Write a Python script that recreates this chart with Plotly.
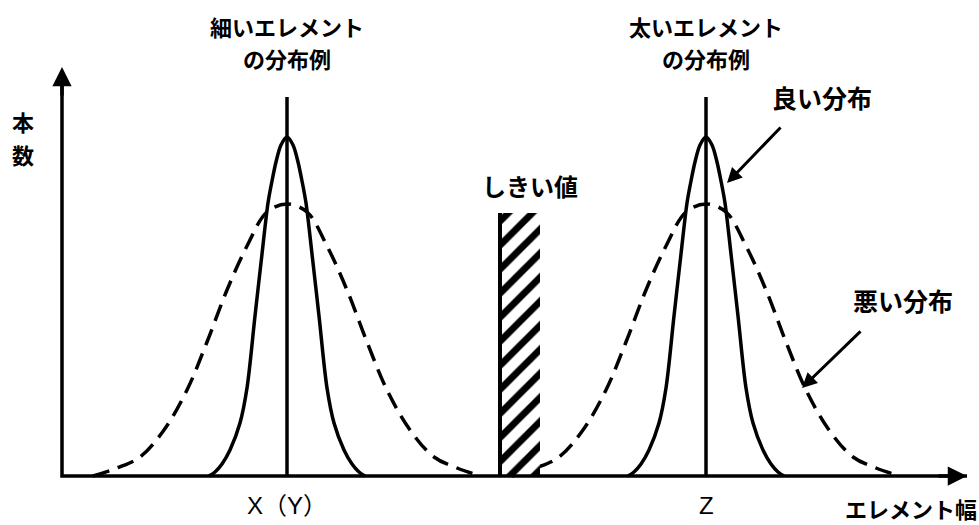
import plotly.graph_objects as go

# Centres of the two distributions on the element-width axis
centers = [225, 644]
center_labels = ["X（Y）", "Z"]
group_titles = [["細いエレメント", "の分布例"], ["太いエレメント", "の分布例"]]

# Half profile of the narrow (good) distribution: offset from centre -> count
good_offset = [0, 6, 11, 15, 19, 25, 32, 40, 47, 57, 65, 72, 78]
good_count = [339, 331, 314, 295, 273, 222, 160, 88, 53, 26, 12, 4, 0]

# Half profile of the wide (bad) distribution
bad_offset = [0, 20, 40, 60, 80, 100, 123, 147, 170, 194]
bad_count = [272, 264, 230, 186, 134, 86, 46, 19, 8, 0]

# Threshold band
threshold_left = 438
threshold_right = 478
threshold_height = 263

# Drawing extents
center_line_top = 379
y_axis_top = 409
x_axis_end = 905

INK = "black"
JP = "Noto Sans CJK JP"


def mirror(center, offsets, counts):
    xs = [center - o for o in reversed(offsets)] + [center + o for o in offsets[1:]]
    ys = list(reversed(counts)) + counts[1:]
    return xs, ys


fig = go.Figure()

# Wide (bad) distributions, dashed
for c in centers:
    xs, ys = mirror(c, bad_offset, bad_count)
    fig.add_trace(go.Scatter(
        x=xs, y=ys, mode="lines",
        line=dict(color=INK, width=3.5, dash="17px,9px", shape="spline", smoothing=1.0),
        hoverinfo="skip",
    ))

# Narrow (good) distributions, solid
for c in centers:
    xs, ys = mirror(c, good_offset, good_count)
    fig.add_trace(go.Scatter(
        x=xs, y=ys, mode="lines",
        line=dict(color=INK, width=3.5, shape="spline", smoothing=0.9),
        hoverinfo="skip",
    ))

# Threshold band with diagonal hatching
fig.add_trace(go.Scatter(
    x=[threshold_left, threshold_left, threshold_right, threshold_right, threshold_left],
    y=[0, threshold_height, threshold_height, 0, 0],
    mode="lines", fill="toself", fillcolor="white",
    fillpattern=dict(shape="/", fgcolor=INK, bgcolor="white", fgopacity=1,
                     size=17, solidity=0.4),
    line=dict(width=0, color="rgba(0,0,0,0)"),
    hoverinfo="skip",
))
fig.add_trace(go.Scatter(
    x=[threshold_left, threshold_left], y=[0, threshold_height], mode="lines",
    line=dict(color=INK, width=4), hoverinfo="skip",
))

# Centre lines
for c in centers:
    fig.add_trace(go.Scatter(
        x=[c, c], y=[0, center_line_top], mode="lines",
        line=dict(color=INK, width=3.5), hoverinfo="skip",
    ))

# Axes with arrow heads
fig.add_trace(go.Scatter(
    x=[0, 0, x_axis_end], y=[y_axis_top - 8, 0, 0], mode="lines",
    line=dict(color=INK, width=3.5), hoverinfo="skip",
))
for (hx, hy, tx, ty) in [(0, y_axis_top, 0, y_axis_top - 30),
                         (x_axis_end, 0, x_axis_end - 30, 0)]:
    fig.add_annotation(x=hx, y=hy, ax=tx, ay=ty, xref="x", yref="y", axref="x", ayref="y",
                       text="", showarrow=True, arrowhead=2, arrowsize=1.1, arrowwidth=3.5,
                       arrowcolor=INK, standoff=0, startstandoff=0)

# Pointer arrows to the two distribution types
for (hx, hy, tx, ty) in [(665, 293, 720, 350), (740, 88, 800, 146)]:
    fig.add_annotation(x=hx, y=hy, ax=tx, ay=ty, xref="x", yref="y", axref="x", ayref="y",
                       text="", showarrow=True, arrowhead=2, arrowsize=1.0, arrowwidth=3,
                       arrowcolor=INK, standoff=0, startstandoff=0)


def label(text, x, y, size=24, bold=True, family=JP, xanchor="center"):
    fig.add_annotation(x=x, y=y, xref="x", yref="y", showarrow=False,
                       text=f"<b>{text}</b>" if bold else text,
                       font=dict(family=family, size=size, color=INK),
                       xanchor=xanchor, yanchor="middle", borderpad=0)


for c, (l1, l2) in zip(centers, group_titles):
    label(l1, c, 450, size=22)
    label(l2, c, 418, size=22)

for c, t in zip(centers, center_labels):
    label(t, c, -29, size=24, bold=False, family="Liberation Sans, " + JP)

label("本", -39, 355, size=22)
label("数", -39, 322, size=22)
label("しきい値", 468, 291)
label("良い分布", 760, 379, size=25)
label("悪い分布", 841, 176, size=25)
label("エレメント幅", 916, -32, size=22, xanchor="right")

fig.update_layout(
    width=979, height=525,
    margin=dict(l=0, r=0, t=0, b=0),
    paper_bgcolor="white", plot_bgcolor="white",
    showlegend=False,
    xaxis=dict(range=[-62, 917], visible=False, fixedrange=True),
    yaxis=dict(range=[-49, 476], visible=False, fixedrange=True),
)

fig.write_html("out.html")
